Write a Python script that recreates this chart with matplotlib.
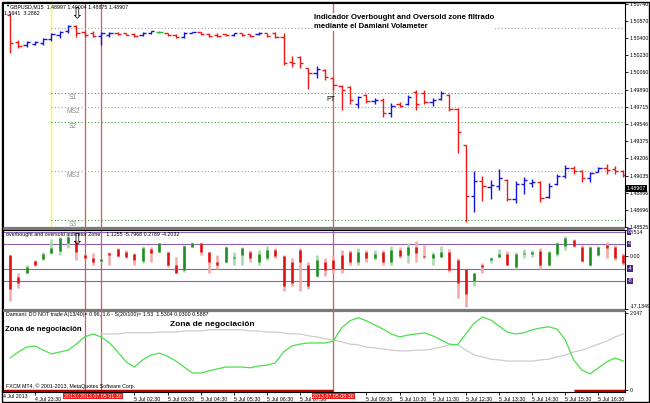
import numpy as np
import matplotlib.pyplot as plt
from matplotlib.patches import Rectangle
from matplotlib.transforms import blended_transform_factory as blend

plt.rcParams['font.family'] = ['Liberation Sans', 'DejaVu Sans']

W, H = 650, 403

# GBPUSD M15 bars, index 0 = 4 Jul 22:45
bar_open = [1.50631, 1.50363, 1.50333, 1.50343, 1.50353, 1.50392, 1.50432, 1.50472, 1.50522, 1.50462,
            1.50452, 1.50422, 1.50432, 1.50452, 1.50452, 1.50442, 1.50432, 1.50452, 1.50462, 1.50452,
            1.50432, 1.50412, 1.50452, 1.50462, 1.50442, 1.50432, 1.50442, 1.50432, 1.50452, 1.50442,
            1.50442, 1.50452, 1.50452, 1.50412, 1.50164, 1.50213, 1.50104, 1.50054, 1.50084, 1.50005,
            1.49925, 1.49915, 1.49746, 1.49836, 1.49776, 1.49786, 1.49657, 1.49746, 1.49746, 1.49866,
            1.49856, 1.49766, 1.49796, 1.49836, 1.49697, 1.49339, 1.48832, 1.48981, 1.48921, 1.48931,
            1.48991, 1.48802, 1.48951, 1.48961, 1.48971, 1.48822, 1.48951, 1.49031, 1.49110, 1.49080,
            1.49011, 1.49070, 1.49110, 1.49100, 1.49080]
bar_high = [1.50651, 1.50382, 1.50372, 1.50372, 1.50402, 1.50452, 1.50472, 1.50532, 1.50532, 1.50472,
            1.50472, 1.50462, 1.50462, 1.50462, 1.50452, 1.50452, 1.50462, 1.50472, 1.50472, 1.50452,
            1.50442, 1.50462, 1.50462, 1.50462, 1.50452, 1.50452, 1.50442, 1.50452, 1.50452, 1.50442,
            1.50462, 1.50452, 1.50462, 1.50452, 1.50223, 1.50223, 1.50104, 1.50124, 1.50094, 1.50015,
            1.49935, 1.49925, 1.49826, 1.49846, 1.49806, 1.49806, 1.49756, 1.49766, 1.49836, 1.49885,
            1.49885, 1.49806, 1.49875, 1.49846, 1.49706, 1.49339, 1.49080, 1.49031, 1.48991, 1.49100,
            1.49001, 1.48981, 1.49021, 1.49001, 1.48981, 1.48961, 1.49050, 1.49140, 1.49130, 1.49090,
            1.49070, 1.49120, 1.49150, 1.49130, 1.49090]
bar_low = [1.50253, 1.50303, 1.50313, 1.50333, 1.50333, 1.50372, 1.50402, 1.50452, 1.50412, 1.50412,
           1.50412, 1.50333, 1.50412, 1.50432, 1.50432, 1.50412, 1.50422, 1.50442, 1.50452, 1.50422,
           1.50402, 1.50402, 1.50452, 1.50432, 1.50412, 1.50412, 1.50422, 1.50422, 1.50422, 1.50412,
           1.50432, 1.50412, 1.50402, 1.50134, 1.50114, 1.50104, 1.49895, 1.50005, 1.49985, 1.49885,
           1.49687, 1.49746, 1.49706, 1.49756, 1.49746, 1.49617, 1.49617, 1.49716, 1.49736, 1.49687,
           1.49746, 1.49726, 1.49786, 1.49677, 1.49259, 1.48573, 1.48673, 1.48782, 1.48802, 1.48891,
           1.48782, 1.48762, 1.48852, 1.48921, 1.48772, 1.48812, 1.48941, 1.49011, 1.49050, 1.48971,
           1.48971, 1.49070, 1.49050, 1.49050, 1.49021]
bar_close = [1.50353, 1.50323, 1.50363, 1.50363, 1.50392, 1.50442, 1.50462, 1.50522, 1.50452, 1.50432,
             1.50422, 1.50452, 1.50452, 1.50442, 1.50432, 1.50422, 1.50452, 1.50472, 1.50462, 1.50432,
             1.50412, 1.50452, 1.50462, 1.50442, 1.50422, 1.50422, 1.50432, 1.50452, 1.50432, 1.50422,
             1.50452, 1.50422, 1.50412, 1.50154, 1.50154, 1.50154, 1.50054, 1.50094, 1.50015, 1.49935,
             1.49885, 1.49786, 1.49816, 1.49776, 1.49786, 1.49657, 1.49726, 1.49726, 1.49816, 1.49746,
             1.49766, 1.49786, 1.49856, 1.49697, 1.49468, 1.48832, 1.48981, 1.48931, 1.48941, 1.49011,
             1.48802, 1.48951, 1.48991, 1.48971, 1.48812, 1.48931, 1.49031, 1.49110, 1.49080, 1.49011,
             1.49060, 1.49110, 1.49090, 1.49080, 1.49041]

# overbought / oversold zone oscillator
osc_open = [0.3, -6.9, -5.3, -1.7, -1.0, 1.0, 1.6, 4.2, 4.6, 0.3,
            -0.7, -1.7, 1.0, 2.3, 1.3, 0.6, -1.7, 2.3, 1.3, 1.3,
            -3.0, -4.6, 2.9, 4.2, 1.3, -2.0, -2.0, -0.7, 0.3, 1.3,
            -2.0, -0.7, 1.9, 0.0, -2.0, 1.9, -3.0, -6.3, -2.0, -1.3,
            0.3, 1.3, -2.0, 1.3, -0.7, 1.3, -2.0, 1.9, 0.3, 2.9,
            0.0, -0.7, -0.4, 1.3, -1.3, -4.0, -7.9, -2.7, -1.3, -0.4,
            0.6, -3.6, 0.6, 0.6, 1.6, -2.7, 0.6, 3.3, 5.2, 2.9,
            -2.7, 0.3, 3.6, 2.9, 0.3]
osc_close = [-10.6, -8.6, -3.6, -3.0, 0.6, 2.6, 5.9, 6.2, 1.3, -0.7,
             -2.0, -1.0, 0.3, 0.0, -0.4, -1.3, 2.6, 1.0, 4.2, -2.7,
             -5.3, 3.3, 4.2, 1.3, -2.0, -3.0, 2.9, -0.4, 2.6, -0.7,
             0.6, 1.9, 0.0, -9.6, -8.6, -2.0, -9.6, -1.3, -4.6, -4.0,
             -4.0, -2.0, 1.3, -0.7, 0.6, -2.0, 1.9, 0.0, 2.9, 1.0,
             -0.4, 0.6, 1.3, -4.6, -8.6, -12.2, -5.6, -3.6, -0.7, 0.6,
             -2.7, 0.6, 1.0, 1.3, -3.0, 1.3, 4.2, 5.9, 3.3, -1.7,
             2.9, 2.9, 2.6, -0.7, -2.3]
osc_high = [0.3, -5.6, -3.0, -1.3, 1.3, 5.6, 6.2, 7.2, 5.2, 0.6,
            1.0, -0.7, 1.3, 2.6, 1.9, 1.0, 3.3, 2.9, 4.2, 1.3,
            -0.4, 3.6, 4.6, 4.2, 1.3, 0.3, 3.3, 1.3, 2.9, 1.9,
            1.9, 3.3, 2.6, 0.3, -0.7, 2.6, -2.0, 0.3, -0.7, 0.3,
            1.9, 1.9, 2.6, 1.9, 1.9, 1.9, 3.3, 2.9, 4.2, 4.9,
            3.6, 1.3, 3.3, 2.3, -0.7, -4.0, -5.6, -2.3, -0.4, 2.3,
            1.6, 1.3, 2.3, 1.9, 2.6, 1.6, 4.6, 6.5, 5.6, 3.6,
            3.3, 3.3, 4.6, 3.6, 1.0]
osc_low = [-14.5, -10.2, -5.6, -3.3, -1.3, 0.6, 0.3, 2.6, -1.3, -1.0,
           -2.7, -2.0, -2.7, -0.4, -0.7, -3.0, -2.3, -2.0, 1.3, -3.6,
           -5.6, -5.0, 2.9, 0.3, -5.6, -4.0, -2.3, -3.0, -3.0, -2.0,
           -2.7, -1.3, -0.7, -11.2, -9.6, -11.2, -10.6, -6.6, -6.3, -5.3,
           -5.3, -3.0, -2.7, -2.0, -1.3, -3.0, -2.7, -0.7, -2.3, -2.0,
           -0.7, -2.7, -0.4, -5.0, -13.5, -16.5, -9.6, -5.3, -2.3, -0.4,
           -3.0, -4.0, -0.7, -0.4, -4.0, -3.3, 0.0, 1.9, 2.9, -2.0,
           -3.3, 0.0, -0.7, -1.3, -2.7]

# Damiani volameter
dam_green = [0.85, 1.01, 1.14, 1.17, 1.06, 0.96, 1.01, 1.06, 1.22, 1.41,
             1.49, 1.41, 1.25, 1.01, 0.75, 0.61, 0.80, 0.93, 0.98, 0.90,
             0.77, 0.61, 0.45, 0.45, 0.51, 0.56, 0.61, 0.61, 0.61, 0.59,
             0.64, 0.66, 0.72, 1.01, 1.17, 1.22, 1.25, 1.25, 1.25, 1.30,
             1.65, 1.84, 1.92, 1.84, 1.73, 1.62, 1.49, 1.41, 1.46, 1.49,
             1.52, 1.44, 1.33, 1.22, 1.20, 1.49, 1.78, 1.94, 1.86, 1.70,
             1.54, 1.49, 1.52, 1.60, 1.65, 1.68, 1.62, 1.33, 0.80, 0.53,
             0.43, 0.59, 0.75, 0.85, 0.77]
dam_gray = [np.nan] * 11 + [
    1.49, 1.49, 1.49, 1.52, 1.52, 1.52, 1.52, 1.54, 1.54,
    1.54, 1.57, 1.57, 1.57, 1.60, 1.60, 1.60, 1.60, 1.60, 1.57,
    1.57, 1.54, 1.54, 1.52, 1.49, 1.49, 1.44, 1.41, 1.36, 1.33,
    1.28, 1.22, 1.20, 1.14, 1.12, 1.09, 1.06, 1.04, 1.04, 1.06,
    1.06, 1.09, 1.14, 1.20, 1.20, 1.06, 0.93, 0.88, 0.82, 0.80,
    0.77, 0.77, 0.77, 0.77, 0.80, 0.82, 0.88, 0.93, 1.01, 1.06,
    1.14, 1.22, 1.30, 1.41, 1.49]
notrade_spans = [(-0.9, 39), (68, 74.3)]

price_ticks = [1.50740, 1.50570, 1.50400, 1.50230, 1.50060, 1.49890, 1.49715,
               1.49546, 1.49375, 1.49206, 1.49035, 1.48866, 1.48696, 1.48525]
pivot_names = ['P', 'S1', 'MS2', 'S2', 'MS3', 'S3']
pivot_values = [1.50502, 1.49856, 1.49716, 1.49568, 1.49081, 1.48594]
pivot_colors = ['#a0a0a0', '#3c9a3c', '#a0a0a0', '#3c9a3c', '#a0a0a0', '#3c9a3c']
osc_levels = [8, 4, -4, -8]
# labels hidden under the red line markers are left out
time_idx = [3, 15, 19, 23, 27, 31, 35, 43, 47, 51, 55, 59, 63, 67, 71]
time_labels = ['4 Jul 23:30', '5 Jul 02:30', '5 Jul 03:30', '5 Jul 04:30', '5 Jul 05:30',
               '5 Jul 06:30', '5 Jul 07:30', '5 Jul 09:30', '5 Jul 10:30', '5 Jul 11:30',
               '5 Jul 12:30', '5 Jul 13:30', '5 Jul 14:30', '5 Jul 15:30', '5 Jul 16:30']
vline_idx = [9, 11, 39]
vline_labels = ['2013.07.05 01:00', '2013.07.05 01:30', '2013.07.05 08:30']
day_start_idx = 5
last_price = 1.48907

fig = plt.figure(figsize=(W / 100, H / 100), dpi=100)


def rect(x0, y0, x1, y1):
    return [x0 / W, 1 - y1 / H, (x1 - x0) / W, (y1 - y0) / H]


ax1 = fig.add_axes(rect(3, 3, 625, 227))
ax2 = fig.add_axes(rect(3, 230, 625, 309))
ax3 = fig.add_axes(rect(3, 311, 625, 392))

x = np.arange(len(bar_open))
xl = (-0.85, 74.2)
small = 3.8

for ax in (ax1, ax2, ax3):
    ax.set_xlim(*xl)
    ax.yaxis.tick_right()
    ax.tick_params(axis='y', labelsize=small, length=2, width=0.6, pad=1.5)
    for s in ax.spines.values():
        s.set_linewidth(0.8)
    for v in vline_idx:
        ax.axvline(v, color='#e05555', lw=0.9, zorder=1)

# ---- main price chart ----
o, h, l, c = map(np.array, (bar_open, bar_high, bar_low, bar_close))
cols = np.where(c > o, '#1414dc', np.where(c < o, '#ee1a1a', '#22bb22'))
ax1.axvline(day_start_idx, color='#ffff30', lw=1.0, zorder=1)
for name, val, col in zip(pivot_names, pivot_values, pivot_colors):
    ax1.hlines(val, day_start_idx, xl[1], colors=col, lw=0.8, linestyles=(0, (1, 2)), zorder=1)
    if name != 'P':
        ax1.annotate(name, (7.6, val), xytext=(0, -0.8), textcoords='offset points',
                     ha='center', va='top', fontsize=4.8, color='#8c8c8c')
ax1.vlines(x, l, h, colors=cols, lw=1.0, zorder=3)
ax1.hlines(o, x - 0.4, x, colors=cols, lw=1.0, zorder=3)
ax1.hlines(c, x, x + 0.4, colors=cols, lw=1.0, zorder=3)
ax1.set_ylim(1.48524, 1.50750)
ax1.set_xticks([])
ax1.set_yticks(price_ticks, [f'{p:.5f}' for p in price_ticks])
ax1.text(1.003, last_price, f'{last_price:.5f}', transform=blend(ax1.transAxes, ax1.transData),
         fontsize=small, color='white', va='center', ha='left', clip_on=False, zorder=6,
         bbox=dict(fc='black', ec='none', pad=0.5))

ax1.text(-0.6, 1.50716, '\u25bc', fontsize=3, va='center', ha='left')
ax1.text(0.0, 1.50716, 'GBPUSD,M15  1.48997 1.49004 1.48875 1.48907', fontsize=small,
         va='center', ha='left')
ax1.text(-0.7, 1.50648, '1.5941  3.2882', fontsize=small, va='center', ha='left')
ax1.text(8, 1.50640, '\u21e9', fontsize=11, ha='center', va='center', family='DejaVu Sans', zorder=5)
ax1.text(36.7, 1.50640, 'Indicador Overbought and Oversold zone filtrado\nmediante el Damiani Volameter',
         fontsize=5.6, fontweight='bold', ha='left', va='top', linespacing=1.35, zorder=5,
         bbox=dict(fc='white', ec='none', pad=0.5))
ax1.text(38.2, 1.49796, 'PT', fontsize=5, ha='left', va='center', zorder=5)

# ---- oscillator panel ----
oo, oc, oh, ol = map(np.array, (osc_open, osc_close, osc_high, osc_low))
up = oc >= oo
body_col = np.where(up, '#1e8c1e', '#e01010')
wick_col = np.where(up, '#a8d8a8', '#f4a8a8')
ax2.vlines(x, ol, oh, colors=wick_col, lw=1.8, zorder=2)
ax2.vlines(x, np.minimum(oo, oc), np.maximum(oo, oc), colors=body_col, lw=1.8, zorder=3)
for lv in osc_levels:
    ax2.axhline(lv, color='#8a62b0', lw=0.8, zorder=1)
    ax2.text(1.004, lv, str(lv), transform=blend(ax2.transAxes, ax2.transData), fontsize=small,
             color='white', va='center', ha='left', clip_on=False, zorder=6,
             bbox=dict(fc='#4b2587', ec='none', pad=0.5))
ax2.set_ylim(-17.1349, 8.514)
ax2.set_xticks([])
ax2.set_yticks([8.514, 0, -17.1349], ['8.514', '0.00', '-17.1349'])
lbls = ax2.get_yticklabels()
lbls[0].set_va('top')
lbls[2].set_va('bottom')
ax2.text(-0.5, 7.0, 'overbought and oversold indicator Zone    1.1255 -5.7968 0.2789 -4.2032',
         fontsize=small, ha='left', va='center', zorder=4)
ax2.text(8, 5.4, '\u21e9', fontsize=11, ha='center', va='center', family='DejaVu Sans', zorder=5)

# ---- Damiani panel ----
ax3.plot(x, dam_gray, color='#cccccc', lw=0.9, zorder=2)
ax3.plot(x, dam_green, color='#4be04b', lw=0.9, zorder=3)
for a, b in notrade_spans:
    ax3.hlines(-0.025, a, b, colors='#b40000', lw=2.5, zorder=4)
ax3.set_ylim(-0.053, 2.10)
ax3.set_yticks([2.047, 0], ['2.047', '0'])
ax3.set_xticks(time_idx, time_labels)
ax3.tick_params(axis='x', labelsize=small, length=2, width=0.6, pad=1.5)
for t in ax3.get_xticklabels():
    t.set_ha('left')
ax3.text(-0.85, -0.02, '4 Jul 2013', transform=blend(ax3.transData, ax3.transAxes),
         fontsize=small, ha='left', va='top', clip_on=False)
for v, lab in zip(vline_idx, vline_labels):
    ax3.text(v, -0.02, lab, transform=blend(ax3.transData, ax3.transAxes), fontsize=small,
             color='white', ha='center', va='top', clip_on=False, zorder=7,
             bbox=dict(fc='#ee1a1a', ec='none', pad=0.6))
ax3.text(-0.5, 2.02, 'Damiani: DO NOT trade A(13/40)= 0.96, 1.6 - S(20/100)= 1.53  1.5304 0.0300 0.5887',
         fontsize=small, ha='left', va='center')
ax3.text(-0.6, 1.62, 'Zona de negociación', fontsize=5.6, fontweight='bold', ha='left', va='center')
ax3.text(19.3, 1.75, 'Zona de negociación', fontsize=6, fontweight='bold', ha='left', va='center')
ax3.text(-0.5, 0.09, 'FXCM MT4, \u00a9 2001-2013, MetaQuotes Software Corp.', fontsize=small,
         ha='left', va='center')

# panel separators and frame
for y0 in (227, 309):
    fig.add_artist(Rectangle((3 / W, 1 - (y0 + 3) / H), 622 / W, 3 / H, transform=fig.transFigure,
                             fc='#7a7a7a', ec='none'))
fig.add_artist(Rectangle((1.5 / W, 1.5 / H), 647 / W, 400 / H, transform=fig.transFigure,
                         fc='none', ec='black', lw=1))

fig.savefig('out.png', dpi=100)
